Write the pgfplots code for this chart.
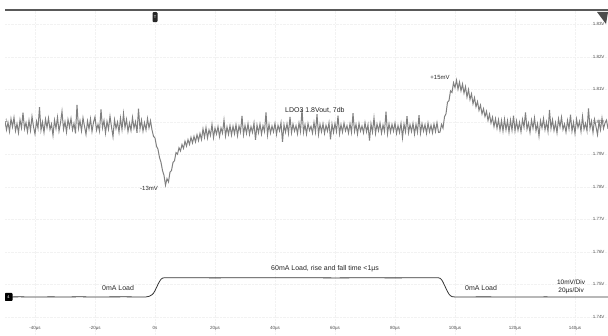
\documentclass[border=0pt]{standalone}
\usepackage{fontspec}
\setmainfont{Liberation Sans}
\usepackage{pgfplots}
\pgfplotsset{compat=1.18}
\definecolor{tracegray}{RGB}{128,128,128}
\definecolor{loadgray}{RGB}{55,55,55}
\begin{document}
\begin{tikzpicture}
\useasboundingbox (0,0) rectangle (608bp,336bp);
\begin{axis}[
  at={(5bp,0bp)}, anchor=south west, scale only axis,
  width=603bp, height=326bp,
  xmin=-50, xmax=151, ymin=-64.92, ymax=35.38,
  axis line style={draw=none}, major tick length=0pt,
  xtick={-40,-20,0,20,40,60,80,100,120,140},
  xticklabels={-40µs,-20µs,0s,20µs,40µs,60µs,80µs,100µs,120µs,140µs},
  xticklabel style={font=\fontsize{4.5}{5}\selectfont, text=black!70, anchor=center, yshift=8bp},
  ytick={31,21,11,1,-9,-19,-29,-39,-49,-59},
  yticklabels={1.83V,1.82V,1.81V,1.80V,1.79V,1.78V,1.77V,1.76V,1.75V,1.74V},
  yticklabel pos=right,
  yticklabel style={font=\fontsize{4.5}{5}\selectfont, text=black!70, anchor=east, xshift=0bp},
  grid=major, major grid style={gray!10, densely dotted},
]
\addplot[tracegray, line width=1.0bp] coordinates {
(-50,1.2)(-49.5,-1.5)(-49,0.8)(-48.5,-2.0)(-48,1.9)(-47.5,-0.6)(-47,2.3)(-46.5,-1.8)(-46,0.4)(-45.5,-2.4)(-45,1.6)(-44.5,-0.9)(-44,3.8)(-43.5,-1.2)(-43,0.7)(-42.5,-2.1)(-42,1.4)(-41.5,-1.7)(-41,2.6)(-40.5,-0.5)
(-40,-2.8)(-39.5,1.1)(-39,-1.0)(-38.5,5.5)(-38,-1.6)(-37.5,0.9)(-37,-2.3)(-36.5,1.8)(-36,-0.8)(-35.5,2.1)(-35,-1.4)(-34.5,0.3)(-34,-3.2)(-33.5,1.5)(-33,-1.1)(-32.5,2.4)(-32,-1.9)(-31.5,0.6)(-31,4.2)(-30.5,-1.3)
(-30,1.0)(-29.5,-2.2)(-29,1.7)(-28.5,-0.7)(-28,2.0)(-27.5,-1.5)(-27,0.5)(-26.5,-2.6)(-26,6.2)(-25.5,-1.0)(-25,1.3)(-24.5,-1.8)(-24,2.2)(-23.5,-0.4)(-23,-2.9)(-22.5,1.2)(-22,-1.2)(-21.5,1.9)(-21,-2.0)(-20.5,0.8)
(-20,2.5)(-19.5,-1.6)(-19,0.2)(-18.5,-1.9)(-18,4.8)(-17.5,-0.9)(-17,1.4)(-16.5,-2.5)(-16,1.1)(-15.5,-1.3)(-15,2.7)(-14.5,-0.6)(-14,-3.6)(-13.5,1.6)(-13,-1.1)(-12.5,0.9)(-12,-2.2)(-11.5,2.1)(-11,-1.4)(-10.5,3.5)
(-10,-0.8)(-9.5,1.7)(-9,-2.0)(-8.5,0.6)(-8,-1.7)(-7.5,2.3)(-7,-1.0)(-6.5,1.0)(-6,-2.4)(-5.5,5.0)(-5,-1.2)(-4.5,1.5)(-4,-1.9)(-3.5,0.7)(-3,-1.5)(-2.5,2.0)(-2,-0.9)(-1.5,1.3)
(-1,-1.5)(-0.5,-3.5)(0,-4.0)(0.5,-6.5)(1,-7.5)(1.5,-10)(2,-11.5)(2.5,-14)(3,-15.5)(3.5,-18.5)(4,-16.5)(4.5,-17.5)(5,-14.5)(5.5,-14.0)(6,-11.5)(6.5,-11.0)(7,-8.5)(7.5,-9.0)(8,-7.0)(8.5,-8.0)(9,-6.0)(9.5,-7.2)(10,-5.0)(10.5,-6.5)(11,-4.5)(11.5,-6.0)(12,-3.8)(12.5,-5.5)(13,-3.5)(13.5,-5.2)(14,-3.0)(14.5,-4.8)(15,-2.6)
(15.5,-4.5)(16,-1.2)(16.5,-3.8)(17,-0.8)(17.5,-4.0)(18,-1.5)(18.5,-3.2)(19,0.2)(19.5,-3.9)(20,-1.0)(20.5,-2.8)(21,-0.5)(21.5,-3.6)(22,-0.9)(22.5,-2.5)(23,1.5)(23.5,-3.4)(24,-0.6)(24.5,-2.9)(25,-0.2)
(25.5,-3.1)(26,-0.4)(26.5,-2.7)(27,0.1)(27.5,-3.3)(28,-0.3)(28.5,-2.2)(29,2.8)(29.5,-3.0)(30,-0.1)(30.5,-2.6)(31,0.4)(31.5,-2.9)(32,-0.5)(32.5,-2.3)(33,0.6)(33.5,-4.6)(34,0.0)(34.5,-2.4)(35,0.3)
(35.5,-2.8)(36,-0.2)(36.5,-2.0)(37,3.9)(37.5,-3.1)(38,0.2)(38.5,-2.5)(39,-0.3)(39.5,-2.1)(40,0.5)(40.5,-2.9)(41,-0.1)(41.5,-1.8)(42,0.7)(42.5,-5.2)(43,0.1)(43.5,-2.2)(44,0.4)(44.5,-2.6)(45,2.5)
(45.5,-2.4)(46,0.3)(46.5,-1.9)(47,-0.2)(47.5,-2.7)(48,0.6)(48.5,-2.0)(49,4.8)(49.5,-2.3)(50,0.1)(50.5,-2.8)(51,0.5)(51.5,-1.7)(52,-0.4)(52.5,-2.5)(53,0.8)(53.5,-2.2)(54,3.3)(54.5,-2.9)(55,0.2)
(55.5,-2.1)(56,0.4)(56.5,-2.6)(57,-0.1)(57.5,-1.9)(58,0.7)(58.5,-4.4)(59,0.3)(59.5,-2.3)(60,0.5)(60.5,-2.0)(61,2.9)(61.5,-2.7)(62,0.1)(62.5,-2.2)(63,0.6)(63.5,-1.8)(64,-0.2)(64.5,-2.5)(65,0.4)
(65.5,-2.3)(66,3.6)(66.5,-2.0)(67,0.2)(67.5,-2.8)(68,0.5)(68.5,-1.9)(69,-0.3)(69.5,-2.4)(70,0.7)(70.5,-2.1)(71,0.1)(71.5,-4.8)(72,0.4)(72.5,-2.2)(73,2.2)(73.5,-2.6)(74,0.3)(74.5,-1.8)(75,0.6)
(75.5,-2.5)(76,0.0)(76.5,-2.0)(77,4.1)(77.5,-2.7)(78,0.4)(78.5,-2.2)(79,0.2)(79.5,-1.9)(80,0.6)(80.5,-2.6)(81,-0.2)(81.5,-2.3)(82,0.5)(82.5,-3.9)(83,0.3)(83.5,-2.1)(84,2.7)(84.5,-2.4)(85,0.1)
(85.5,-2.0)(86,0.5)(86.5,-2.8)(87,0.2)(87.5,-2.2)(88,3.0)(88.5,-2.5)(89,0.4)(89.5,-1.9)(90,0.1)(90.5,-2.6)(91,0.6)(91.5,-2.1)(92,-0.1)(92.5,-2.4)(93,0.3)(93.5,-2.0)(94,0.7)(94.5,-2.3)
(95,-2.2)(95.5,0.2)(96,-1.0)(96.5,2.5)(97,3.5)(97.5,7.0)(98,7.5)(98.5,10.5)(99,10.0)(99.5,13.0)(100,11.5)(100.5,13.8)(101,11.0)(101.5,13.2)(102,10.5)(102.5,12.6)(103,9.8)(103.5,11.8)(104,8.6)(104.5,10.9)
(105,7.8)(105.5,9.6)(106,6.5)(106.5,8.4)(107,5.6)(107.5,7.2)(108,4.5)(108.5,6.1)(109,3.4)(109.5,5.0)(110,2.6)(110.5,4.2)(111,1.4)(111.5,3.3)(112,0.6)(112.5,2.4)(113,-0.5)(113.5,1.9)(114,-1.0)(114.5,1.6)
(115,-1.6)(115.5,1.4)(116,-1.9)(116.5,1.8)(117,-1.5)(117.5,1.3)(118,-2.2)(118.5,1.5)(119,-1.6)(119.5,2.9)(120,-1.8)
(120.5,1.2)(121,-1.6)(121.5,0.8)(122,-2.1)(122.5,1.7)(123,-0.7)(123.5,3.9)(124,-1.3)(124.5,0.6)(125,-2.3)(125.5,1.5)(126,-1.0)(126.5,2.2)(127,-1.8)(127.5,0.4)(128,-3.4)(128.5,1.3)(129,-0.9)(129.5,2.0)(130,-1.5)
(130.5,0.9)(131,-2.0)(131.5,4.6)(132,-1.1)(132.5,1.6)(133,-1.7)(133.5,0.7)(134,-2.4)(134.5,1.9)(135,-0.6)(135.5,2.4)(136,-1.4)(136.5,0.3)(137,-2.2)(137.5,1.4)(138,-1.2)(138.5,3.2)(139,-1.9)(139.5,0.8)(140,-2.6)
(140.5,1.8)(141,-0.8)(141.5,1.1)(142,-2.0)(142.5,2.6)(143,-1.3)(143.5,0.5)(144,-1.8)(144.5,5.1)(145,-1.0)(145.5,1.2)(146,-2.3)(146.5,1.7)(147,-0.5)(147.5,-3.0)(148,1.0)(148.5,-1.5)(149,2.1)(149.5,-1.1)(150,0.6)
(150.5,1.5)(151,-1.2)
};
\draw[black!65, line width=1.2bp] (rel axis cs:0,1) -- (rel axis cs:1,1);
\fill[black!70] (rel axis cs:0.9818,0.9939) -- (rel axis cs:1,0.9939) -- (rel axis cs:0.9967,0.9571) -- cycle;
\node[font=\fontsize{7}{8}\selectfont, text=black!85] at (axis cs:53.3,4.6) {LDO3 1.8Vout, 7db};
\node[font=\fontsize{6}{7}\selectfont, text=black!85] at (axis cs:-2,-19.5) {-13mV};
\node[font=\fontsize{6}{7}\selectfont, text=black!85] at (axis cs:95,14.6) {+15mV};
\node[fill=black!85, rounded corners=1pt, minimum width=5bp, minimum height=10bp, inner sep=0pt, text=white, font=\fontsize{4}{4}\selectfont] at (axis cs:0,33.2) {T};
\node[font=\fontsize{5}{5}\selectfont, text=black!55] at (axis cs:-49.5,1.2) {1};
\end{axis}
\begin{axis}[
  at={(5bp,0bp)}, anchor=south west, scale only axis,
  width=603bp, height=326bp,
  xmin=-50, xmax=151, ymin=-123.2, ymax=906.3,
  hide axis,
]
\addplot[loadgray, line width=0.8bp] coordinates {
(-50,0)(-45,0.5)(-40,-0.3)(-35,0.4)(-30,0)(-25,0.6)(-20,-0.2)(-15,0.3)(-10,0.5)(-5,0)(-3,0.2)(-2,2)(-1,7)(-0.5,12)(0,20)(0.5,30)(1,40)(1.5,49)(2,56)(2.5,59.5)(3,60.5)(10,61)(20,60.3)(30,61)(40,60.5)(50,60.8)(60,60.2)(70,60.7)(80,60.3)(90,60.9)(94.5,60.5)(95,59)(95.5,55)(96,47)(96.5,37)(97,27)(97.5,17)(98,9)(98.5,4)(99,1.2)(100,0)(110,0.4)(120,-0.2)(130,0.3)(140,0)(151,0.2)
};
\node[font=\fontsize{7}{8}\selectfont, text=black!85] at (axis cs:-12.3,28.4) {0mA Load};
\node[font=\fontsize{7}{8}\selectfont, text=black!85] at (axis cs:56.7,88.4) {60mA Load, rise and fall time <1µs};
\node[font=\fontsize{7}{8}\selectfont, text=black!85] at (axis cs:108.7,28.4) {0mA Load};
\node[font=\fontsize{6.5}{7.5}\selectfont, text=black!90, align=center] at (axis cs:138.7,31.6) {10mV/Div\\20µs/Div};
\node[fill=black, rounded corners=1pt, minimum width=8bp, minimum height=8bp, inner sep=0pt, text=white, font=\fontsize{4}{4}\selectfont] at (axis cs:-48.8,0) {4};
\end{axis}
\end{tikzpicture}
\end{document}
